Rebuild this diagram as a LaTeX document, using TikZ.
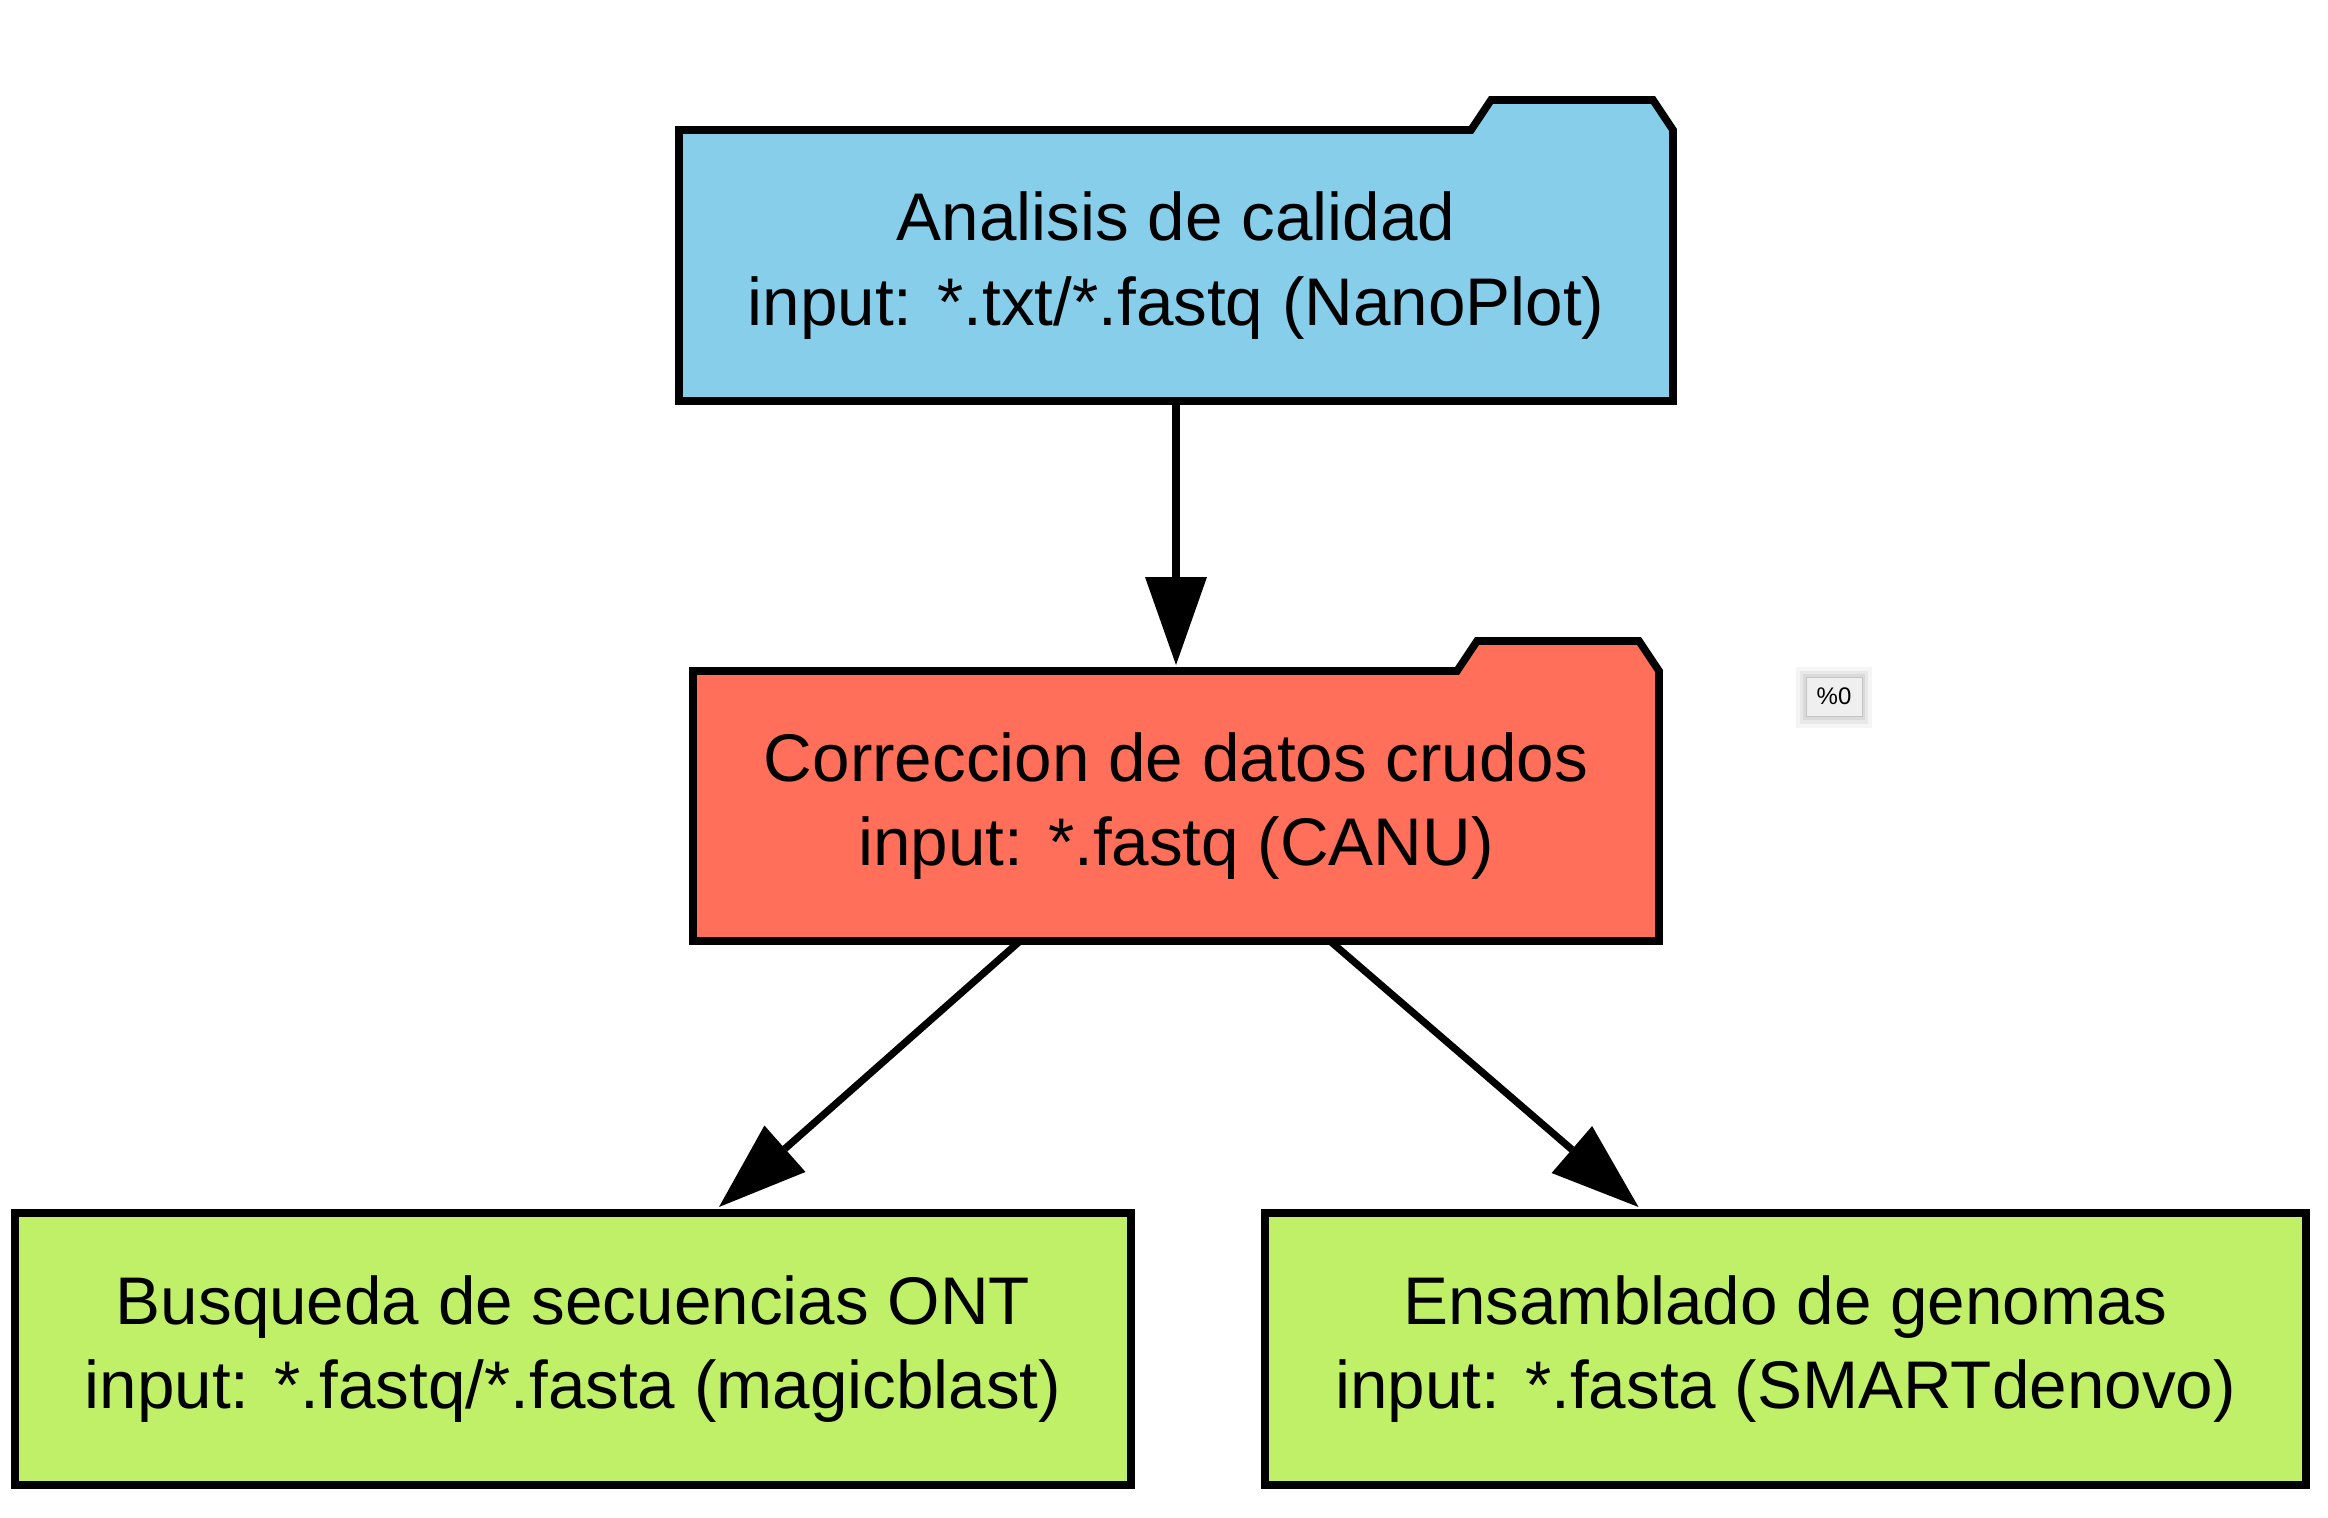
\documentclass[tikz,border=0pt]{standalone}
\usepackage{fontspec}
\setmainfont{Liberation Sans}
\usetikzlibrary{arrows.meta,calc,backgrounds}
\definecolor{skyc}{HTML}{87CEEB}
\definecolor{tomc}{HTML}{FF6F59}
\definecolor{grnc}{HTML}{BFF068}
\definecolor{tipbg}{HTML}{EFEFEF}
\definecolor{tipbd}{HTML}{C4C4C4}
\tikzset{
  txt/.style={inner sep=0pt, outer sep=0pt, align=center,
    font=\fontsize{33.7pt}{42.3pt}\selectfont, rectangle},
  folderbox/.style={txt, draw=none},
  plainbox/.style={txt, draw=black, line width=3.8pt},
  outline/.style={draw=black, line width=3.8pt, line join=miter},
  conn/.style={draw=black, line width=3.6pt,
    -{Triangle[length=44pt,width=31pt,line width=0pt]}},
  tipbox/.style={rectangle, inner sep=0pt, outer sep=0pt, fill=tipbg, draw=tipbd,
    line width=0.5pt, font=\fontsize{12pt}{14pt}\selectfont,
    minimum width=28pt, minimum height=19.5pt}
}
\begin{document}
\begin{tikzpicture}[x=0.5pt,y=-0.5pt]
\useasboundingbox (0,0) rectangle (2328,1518);

% folder nodes
\node[folderbox, minimum width=497pt, minimum height=135.5pt] (a) at (1176,265.5)
  {Analisis de calidad\\input: *.txt/*.fastq (NanoPlot)};
\node[folderbox, minimum width=483pt, minimum height=135pt] (b) at (1176,806)
  {Correccion de datos crudos\\input: *.fastq (CANU)};

\begin{pgfonlayer}{background}
\fill[white] (0,0) rectangle (2328,1518);
\foreach \n/\c in {a/skyc,b/tomc}{
  \path[outline, fill=\c] (\n.south west) -- (\n.north west)
    -- ([xshift=-101pt]\n.north east)
    -- ([xshift=-91pt,yshift=15pt]\n.north east)
    -- ([xshift=-10pt,yshift=15pt]\n.north east)
    -- (\n.north east) -- (\n.south east) -- cycle;
}
\end{pgfonlayer}

% plain nodes
\node[plainbox, fill=grnc, minimum width=558pt, minimum height=136pt] (c) at (573,1349)
  {Busqueda de secuencias ONT\\input: *.fastq/*.fasta (magicblast)};
\node[plainbox, fill=grnc, minimum width=520.5pt, minimum height=136pt] (d) at (1785.5,1349)
  {Ensamblado de genomas\\input: *.fasta (SMARTdenovo)};

% tooltip box
\fill[black, opacity=0.04] (1796,667) rectangle (1872,728);
\fill[black, opacity=0.05] (1800,671) rectangle (1868,724);
\fill[black, opacity=0.06] (1803,674) rectangle (1865,720);
\node[tipbox] (t) at (1834,696.5) {\%0};

% connectors
\draw[conn] (a.south) -- ([yshift=3pt]b.north);
\draw[conn] ([xshift=-78pt]b.south) -- ([xshift=73pt,yshift=3pt]c.north);
\draw[conn] ([xshift=77pt]b.south) -- ([xshift=-73.5pt,yshift=3pt]d.north);
\end{tikzpicture}
\end{document}
